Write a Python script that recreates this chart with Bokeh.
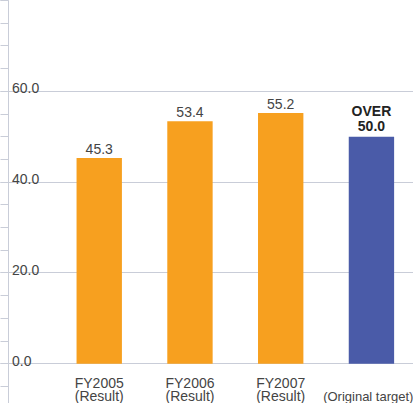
from bokeh.plotting import figure
from bokeh.models import Range1d, SingleIntervalTicker, LinearAxis, ColumnDataSource, CustomJSTickFormatter
from bokeh.core.properties import value
from bokeh.embed import file_html
from bokeh.resources import INLINE

# ---- data ----
categories = ["FY2005", "FY2006", "FY2007"]
sub_labels = ["(Result)", "(Result)", "(Result)"]
results = [45.3, 53.4, 55.2]
target_value = 50.0
target_prefix = "OVER"
target_sub = "(Original target)"
y_ticks = [0, 20, 40, 60]
y_tick_labels = ["0.0", "20.0", "40.0", "60.0"]

FONT = value("Liberation Sans")
FS = "14px"
ORANGE = "#F7A01F"
BLUE = "#4A5BA8"
GRID = "#C9CDD8"
TXT = "#444444"

p = figure(width=413, height=403, output_backend="svg", toolbar_location=None,
           x_range=Range1d(0, 4.4636), y_range=Range1d(-8.76, 80),
           min_border=0, min_border_left=0, min_border_right=0,
           min_border_top=0, min_border_bottom=0,
           x_axis_location=None, y_axis_location=None)
p.outline_line_color = None
p.background_fill_color = "white"
p.border_fill_color = "white"

# y axis: line + outward ticks, labels drawn inside the plot instead
ax = LinearAxis(ticker=SingleIntervalTicker(interval=20, num_minor_ticks=4),
                formatter=CustomJSTickFormatter(code="return ''"))
ax.axis_line_color = GRID
ax.axis_line_width = 1
ax.major_tick_line_color = GRID
ax.minor_tick_line_color = GRID
ax.major_tick_out = 8
ax.major_tick_in = 0
ax.minor_tick_out = 8
ax.minor_tick_in = 0
ax.major_label_standoff = 0
p.add_layout(ax, "left")

p.ygrid.ticker = SingleIntervalTicker(interval=20)
p.ygrid.grid_line_color = GRID
p.ygrid.grid_line_width = 1
p.xgrid.visible = False

# bars
xs = [1, 2, 3]
src = ColumnDataSource(dict(x=xs, top=results, lab=[f"{v:.1f}" for v in results],
                            cat=categories, sub=sub_labels))
p.vbar(x="x", top="top", bottom=0, width=0.5, source=src, color=ORANGE, line_color=None)
p.vbar(x=[4], top=[target_value], bottom=0, width=0.5, color=BLUE, line_color=None)

# value labels
p.text(x="x", y="top", text="lab", source=src, text_font=FONT, text_font_size=FS,
       text_color=TXT, text_align="center", text_baseline="alphabetic", y_offset=-9)
p.text(x=[4], y=[target_value], text=[f"{target_value:.1f}"], text_font=FONT,
       text_font_size=FS, text_font_style="bold", text_color="#222222",
       text_align="center", text_baseline="alphabetic", y_offset=-10.5)
p.text(x=[4], y=[target_value], text=[target_prefix], text_font=FONT,
       text_font_size=FS, text_font_style="bold", text_color="#222222",
       text_align="center", text_baseline="alphabetic", y_offset=-25.5)

# category labels
p.text(x="x", y=0, text="cat", source=src, text_font=FONT, text_font_size=FS,
       text_color=TXT, text_align="center", text_baseline="alphabetic", y_offset=19)
p.text(x="x", y=0, text="sub", source=src, text_font=FONT,
       text_font_size=FS, text_color=TXT, text_align="center",
       text_baseline="alphabetic", y_offset=32.5)
p.text(x=[4], y=[0], text=[target_sub], text_font=FONT,
       text_font_size="13px", text_color=TXT, text_align="right",
       text_baseline="alphabetic", x_offset=42, y_offset=32.5)

# y tick labels inside the plot
p.text(x=[0] * len(y_ticks), y=y_ticks, text=y_tick_labels, text_font=FONT,
       text_font_size=FS, text_color=TXT, text_align="left",
       text_baseline="alphabetic", x_offset=3.5, y_offset=-3)

open("out.html", "w").write(file_html(p, INLINE))
